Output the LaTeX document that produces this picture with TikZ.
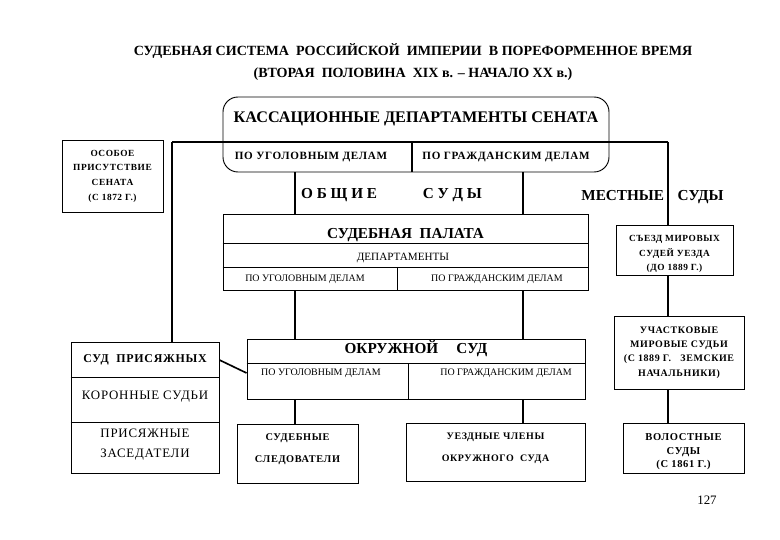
\documentclass[tikz,border=0pt]{standalone}
\usepackage{fontspec}
\setmainfont{Liberation Serif}
\newfontfamily\widefont[LetterSpace=6]{Liberation Serif}
\begin{document}
\begin{tikzpicture}[x=0.03cm,y=-0.03cm,
    box/.style={draw,line width=0.8pt,inner sep=0pt},
    conn/.style={line width=1.9pt},
    rule/.style={line width=0.8pt},
    hdr/.style={font=\fontsize{13}{15}\selectfont\bfseries},
    subb/.style={font=\widefont\fontsize{8.5}{10}\selectfont\bfseries},
    subn/.style={font=\fontsize{8.5}{10}\selectfont},
    note/.style={font=\widefont\fontsize{8}{12.5}\selectfont\bfseries,align=center}]
\useasboundingbox (0,0) rectangle (780,540);

% title
\node[font=\fontsize{12}{18}\selectfont\bfseries,align=center] (title) at (413,62)
  {СУДЕБНАЯ СИСТЕМА\ \ РОССИЙСКОЙ\ \ ИМПЕРИИ\ \ В ПОРЕФОРМЕННОЕ ВРЕМЯ\\
   (ВТОРАЯ\ \ ПОЛОВИНА\ \ XIX в. – НАЧАЛО XX в.)};

% senate
\node[box,rounded corners=0.45cm,minimum width=11.58cm,minimum height=2.25cm] (kass) at (416,134.5) {};
\node[hdr,font=\fontsize{13.8}{15}\selectfont\bfseries] (kassHead) at (416,119) {КАССАЦИОННЫЕ ДЕПАРТАМЕНТЫ СЕНАТА};
\node[subb,font=\widefont\fontsize{9.5}{11}\selectfont\bfseries] (kassCrim) at (311,157) {ПО УГОЛОВНЫМ ДЕЛАМ};
\node[subb,font=\widefont\fontsize{9.5}{11}\selectfont\bfseries] (kassCiv) at (506,157) {ПО ГРАЖДАНСКИМ ДЕЛАМ};
\coordinate (busL) at (172,142);
\coordinate (busR) at (668,142);
\coordinate (kdiv) at (412,142);
\draw[conn] (busL) -- (busR);
\draw[conn] (kdiv) -- (kass.south -| kdiv);

\node[box,minimum width=3.03cm,minimum height=2.16cm,note] (osoboe) at (112.5,176)
  {ОСОБОЕ\\ПРИСУТСТВИЕ\\СЕНАТА\\(С 1872 Г.)};

% general courts
\node[hdr] (obsch) at (391.5,195)
  {О\hspace{0.25em}Б\hspace{0.25em}Щ\hspace{0.25em}И\hspace{0.25em}Е\hspace{3em}С\hspace{0.25em}У\hspace{0.25em}Д\hspace{0.25em}Ы};
\node[hdr] (mestn) at (652.5,197) {МЕСТНЫЕ\hspace{0.9em}СУДЫ};
\coordinate (gL) at (295,0);
\coordinate (gR) at (523,0);

\node[box,minimum width=10.95cm,minimum height=2.28cm] (palata) at (405.5,252) {};
\node[hdr] (palHead) at (405.5,235) {СУДЕБНАЯ\ \ ПАЛАТА};
\node[font=\fontsize{9.5}{11}\selectfont] (palDep) at (403,258) {ДЕПАРТАМЕНТЫ};
\node[subn] (palCrim) at (305,279) {ПО УГОЛОВНЫМ ДЕЛАМ};
\node[subn] (palCiv) at (497,279) {ПО ГРАЖДАНСКИМ ДЕЛАМ};
\draw[rule] (palata.west |- 0,243) -- (palata.east |- 0,243);
\draw[rule] (palata.west |- 0,267) -- (palata.east |- 0,267);
\draw[rule] (397,267) -- (palata.south -| 397,0);
\draw[conn] (kass.south -| gL) -- (palata.north -| gL);
\draw[conn] (kass.south -| gR) -- (palata.north -| gR);

\node[box,minimum width=10.14cm,minimum height=1.8cm] (okr) at (416,369) {};
\node[hdr] (okrHead) at (416,349) {ОКРУЖНОЙ\hspace{1.2em}СУД};
\node[subn,anchor=west] (okrCrim) at (257,373) {ПО УГОЛОВНЫМ ДЕЛАМ};
\node[subn,anchor=east] (okrCiv) at (576,373) {ПО ГРАЖДАНСКИМ ДЕЛАМ};
\draw[rule] (okr.west |- 0,363) -- (okr.east |- 0,363);
\draw[rule] (408,363) -- (okr.south -| 408,0);
\draw[conn] (palata.south -| gL) -- (okr.north -| gL);
\draw[conn] (palata.south -| gR) -- (okr.north -| gR);

\node[box,minimum width=3.63cm,minimum height=1.77cm] (sled) at (297.5,453.5) {};
\node[subb,font=\widefont\fontsize{8.8}{10}\selectfont\bfseries] (sled1) at (297.5,438) {СУДЕБНЫЕ};
\node[subb,font=\widefont\fontsize{8.8}{10}\selectfont\bfseries] (sled2) at (297.5,460) {СЛЕДОВАТЕЛИ};
\node[box,minimum width=5.37cm,minimum height=1.74cm] (uezd) at (495.5,452) {};
\node[subb] (uezd1) at (495.5,437) {УЕЗДНЫЕ ЧЛЕНЫ};
\node[subb] (uezd2) at (495.5,459) {ОКРУЖНОГО\ \ СУДА};
\draw[conn] (okr.south -| gL) -- (sled.north -| gL);
\draw[conn] (okr.south -| gR) -- (uezd.north -| gR);

% jury
\node[box,minimum width=4.44cm,minimum height=3.93cm] (prisyazh) at (145,407.5) {};
\node[font=\widefont\fontsize{10.2}{12}\selectfont\bfseries] (prisHead) at (145,360) {СУД\ \ ПРИСЯЖНЫХ};
\node[font=\widefont\fontsize{11}{13}\selectfont] (koron) at (145,397) {КОРОННЫЕ СУДЬИ};
\node[font=\widefont\fontsize{11}{17}\selectfont,align=center] (zased) at (145,445) {ПРИСЯЖНЫЕ\\ЗАСЕДАТЕЛИ};
\draw[rule] (prisyazh.west |- 0,377) -- (prisyazh.east |- 0,377);
\draw[rule] (prisyazh.west |- 0,422) -- (prisyazh.east |- 0,422);
\draw[conn] (busL) -- (busL |- prisyazh.north);
\draw[line width=1.4pt] (prisyazh.east |- prisHead) -- (okr.west |- okrCrim);

% local courts
\node[box,minimum width=3.51cm,minimum height=1.5cm] (sezd) at (674.5,250) {};
\node[note] (sezdTxt) at (674.5,254) {СЪЕЗД МИРОВЫХ\\СУДЕЙ УЕЗДА\\(ДО 1889 Г.)};
\node[box,minimum width=3.9cm,minimum height=2.19cm,note,font=\widefont\fontsize{8.5}{12.3}\selectfont\bfseries] (uchast) at (679,352.5)
  {УЧАСТКОВЫЕ\\МИРОВЫЕ СУДЬИ\\(С 1889 Г.\ \ \ ЗЕМСКИЕ\\НАЧАЛЬНИКИ)};
\node[box,minimum width=3.63cm,minimum height=1.5cm] (volost) at (683.5,448) {};
\node[note,font=\widefont\fontsize{9}{11.5}\selectfont\bfseries] (volostTxt) at (683.5,452) {ВОЛОСТНЫЕ\\СУДЫ\\(С 1861 Г.)};
\draw[conn] (busR) -- (busR |- sezd.north);
\draw[conn] (sezd.south -| busR) -- (uchast.north -| busR);
\draw[conn] (uchast.south -| busR) -- (volost.north -| busR);

\node[font=\fontsize{11}{13}\selectfont] (page) at (707,500) {127};
\end{tikzpicture}
\end{document}
